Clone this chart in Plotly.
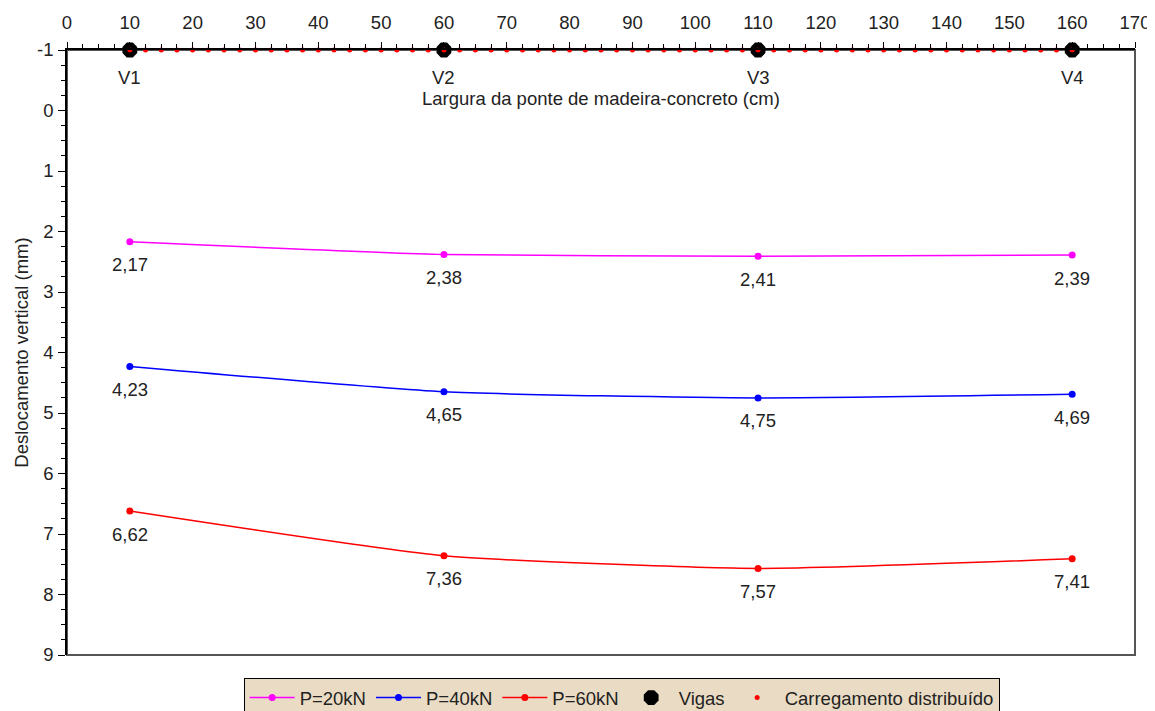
import plotly.graph_objects as go

# Data
posicoes = [10, 60, 110, 160]
vigas_labels = ["V1", "V2", "V3", "V4"]
p20 = [2.17, 2.38, 2.41, 2.39]
p40 = [4.23, 4.65, 4.75, 4.69]
p60 = [6.62, 7.36, 7.57, 7.41]
carga_x = [10 + 2.5 * i for i in range(61)]
nivel_vigas = -1
x_ticks = list(range(0, 171, 10))
y_ticks = list(range(-1, 10))

FONT = "Liberation Sans, Arial, sans-serif"
FS = 18.5
TXT = "#222222"

def fmt(v):
    return f"{v:.2f}".replace(".", ",")

fig = go.Figure()

series = [
    ("P=20kN", p20, "#ff00ff"),
    ("P=40kN", p40, "#0000ff"),
    ("P=60kN", p60, "#ff0000"),
]
for name, vals, col in series:
    fig.add_trace(go.Scatter(
        x=posicoes, y=vals, name=name, mode="lines+markers",
        line=dict(color=col, width=1.5, shape="spline", smoothing=0.5),
        marker=dict(color=col, size=7),
        cliponaxis=False,
    ))
    for xv, v in zip(posicoes, vals):
        fig.add_annotation(x=xv, y=v, text=fmt(v), showarrow=False, yshift=-23,
                           font=dict(family=FONT, size=FS, color=TXT))

fig.add_trace(go.Scatter(
    x=posicoes, y=[nivel_vigas] * len(posicoes), name="Vigas", mode="markers",
    marker=dict(color="black", size=16, symbol="octagon"),
    cliponaxis=False,
))
fig.add_trace(go.Scatter(
    x=carga_x, y=[nivel_vigas] * len(carga_x), name="Carregamento distribuído",
    mode="markers", marker=dict(color="#ff0000", size=5, symbol="circle"),
    cliponaxis=False,
))

for xv, lab in zip(posicoes, vigas_labels):
    fig.add_annotation(x=xv, y=nivel_vigas, text=lab, showarrow=False,
                       yshift=-27, font=dict(family=FONT, size=FS, color=TXT))

fig.add_annotation(x=0.5, xref="paper", y=nivel_vigas, yref="y", yshift=-48,
                   text="Largura da ponte de madeira-concreto (cm)", showarrow=False,
                   font=dict(family=FONT, size=FS, color=TXT))

# frame (right & bottom)
fig.add_shape(type="rect", xref="paper", yref="paper", x0=0, x1=1, y0=0, y1=1,
              line=dict(color="#555555", width=2), layer="below")

# the page adds an 8px body margin, so the figure is 8px smaller on each axis
fig.update_layout(
    width=1147, height=703,
    margin=dict(l=59, r=20, t=42, b=56),
    paper_bgcolor="white", plot_bgcolor="white",
    font=dict(family=FONT, size=FS, color=TXT),
    showlegend=True,
    legend=dict(orientation="h", x=0.535, xanchor="center", xref="container",
                y=33 / 703, yanchor="top", yref="container",
                bgcolor="#eadcc4", bordercolor="black", borderwidth=1,
                font=dict(family=FONT, size=FS, color=TXT),
                itemwidth=45, tracegroupgap=0),
    xaxis=dict(range=[0, 170], side="top", tickvals=x_ticks,
               ticktext=[str(t) for t in x_ticks],
               showgrid=False, zeroline=False, automargin=False,
               showline=True, linecolor="black", linewidth=1.5,
               ticks="outside", ticklen=6, tickcolor="black",
               ticklabelstandoff=6,
               minor=dict(dtick=2.5, tick0=0, ticks="outside", ticklen=4, tickcolor="black", showgrid=False),
               tickfont=dict(family=FONT, size=FS, color=TXT)),
    yaxis=dict(range=[9, -1], tickvals=y_ticks, ticktext=[str(t) for t in y_ticks],
               showgrid=False, zeroline=False, automargin=False,
               showline=True, linecolor="black", linewidth=1.5,
               ticks="outside", ticklen=7, tickcolor="black",
               ticklabelstandoff=1,
               minor=dict(dtick=0.25, tick0=0, ticks="outside", ticklen=4, tickcolor="black", showgrid=False),
               title=dict(text="Deslocamento vertical (mm)", standoff=4,
                          font=dict(family=FONT, size=FS, color=TXT)),
               tickfont=dict(family=FONT, size=FS, color=TXT)),
)

fig.write_html("out.html")
